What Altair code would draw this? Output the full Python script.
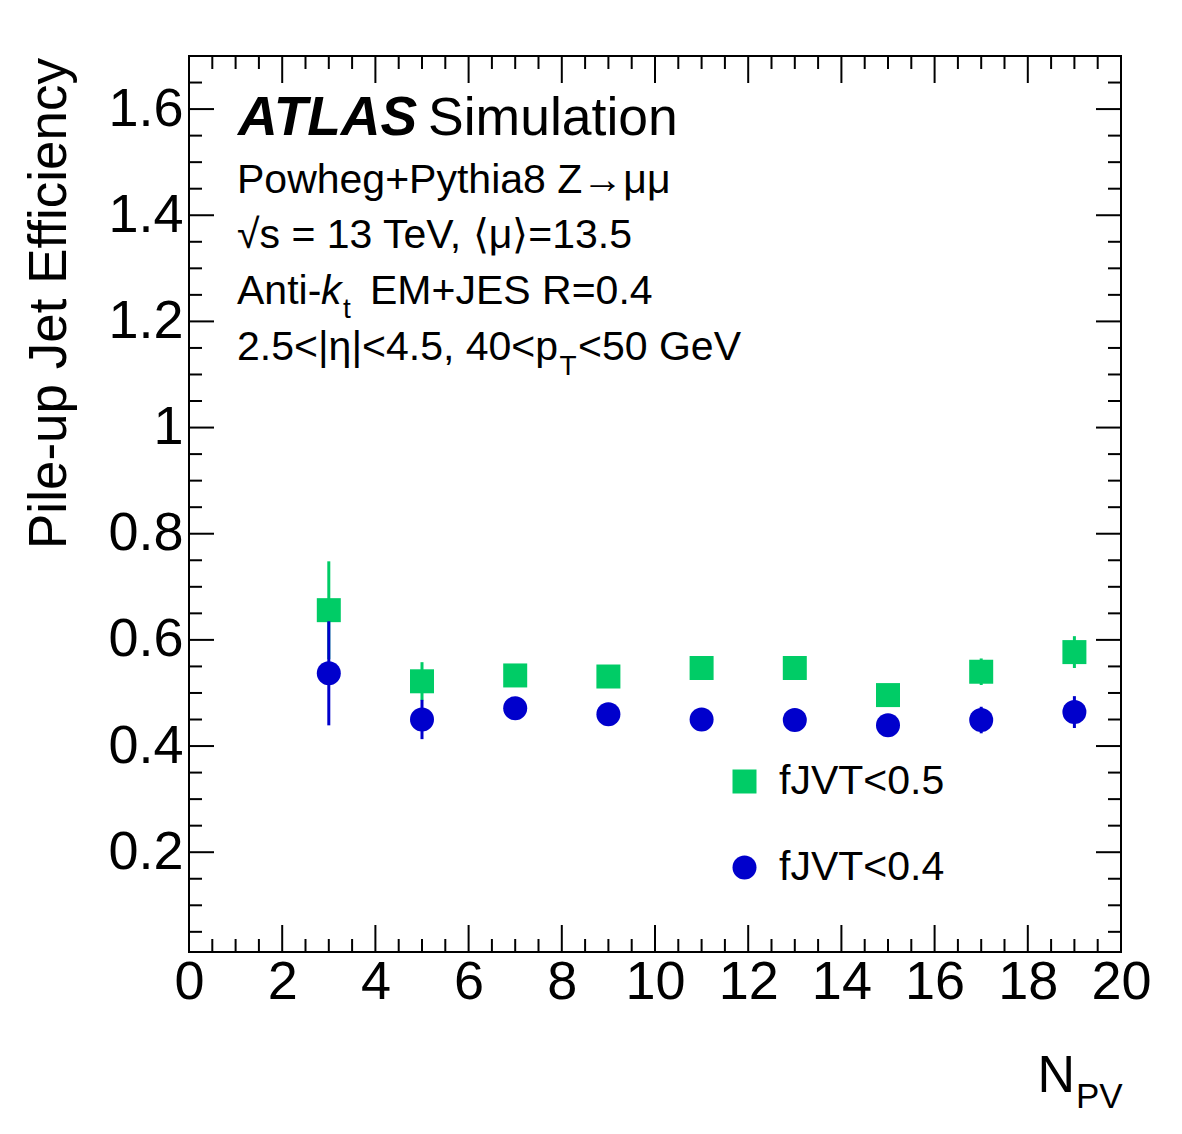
import altair as alt
import pandas as pd

# ---- data ----
npv = [3, 5, 7, 9, 11, 13, 15, 17, 19]
eff_05 = [0.656, 0.522, 0.533, 0.531, 0.547, 0.547, 0.496, 0.540, 0.577]
err_05 = [0.092, 0.036, 0.012, 0.012, 0.012, 0.012, 0.012, 0.025, 0.030]
eff_04 = [0.537, 0.450, 0.471, 0.460, 0.450, 0.449, 0.439, 0.449, 0.464]
err_04 = [0.098, 0.037, 0.012, 0.012, 0.012, 0.012, 0.012, 0.025, 0.030]
series_names = ["fJVT<0.5", "fJVT<0.4"]
series_colors = ["#00CC66", "#0000CC"]
series_shapes = ["square", "circle"]

x_major = [0, 2, 4, 6, 8, 10, 12, 14, 16, 18, 20]
x_minor = [i * 0.5 for i in range(41) if i % 4 != 0]
y_major = [0.2, 0.4, 0.6, 0.8, 1.0, 1.2, 1.4, 1.6]
y_minor = [round(0.05 * i, 2) for i in range(1, 34) if i % 4 != 0]

W, H = 932, 896
FONT = "Liberation Sans"

rows = []
for n, v, e in zip(npv, eff_05, err_05):
    rows.append({"npv": n, "eff": v, "lo": v - e, "hi": v + e, "series": series_names[0]})
for n, v, e in zip(npv, eff_04, err_04):
    rows.append({"npv": n, "eff": v, "lo": v - e, "hi": v + e, "series": series_names[1]})
df = pd.DataFrame(rows)

xs = alt.Scale(domain=[0, 20], nice=False, zero=False)
ys = alt.Scale(domain=[0.012, 1.7], nice=False, zero=False)
cs = alt.Scale(domain=series_names, range=series_colors)
ss = alt.Scale(domain=series_names, range=series_shapes)

base = alt.Chart(df)

leg = alt.Legend(title=None, orient="none", legendX=535, legendY=705, direction="vertical",
                 symbolSize=576, labelFontSize=41, labelFont=FONT, labelOffset=14,
                 rowPadding=44, labelLimit=400, padding=0, symbolStrokeWidth=0,
                 labelColor="black")

def bars(i):
    return base.transform_filter(alt.datum.series == series_names[i]).mark_rule(strokeWidth=3).encode(
        x=alt.X("npv:Q", scale=xs),
        y=alt.Y("lo:Q", scale=ys),
        y2="hi:Q",
        color=alt.value(series_colors[i]),
    )

def pts(i):
    return base.transform_filter(alt.datum.series == series_names[i]).mark_point(filled=True, size=576, opacity=1).encode(
        x=alt.X("npv:Q", scale=xs),
        y=alt.Y("eff:Q", scale=ys),
        color=alt.Color("series:N", scale=cs, legend=leg, sort=series_names),
        shape=alt.Shape("series:N", scale=ss, legend=leg, sort=series_names),
    )

axis_layer = alt.Chart(pd.DataFrame({"x": [0, 20], "y": [0.012, 1.7]})).mark_point(opacity=0).encode(
    x=alt.X("x:Q", scale=xs, axis=alt.Axis(values=x_major, format="~g", title=None, ticks=False, domain=False,
                                             grid=False, labelFontSize=54, labelFont=FONT, labelColor="black",
                                             labelPadding=3, labelFlush=False, labelOverlap=False)),
    y=alt.Y("y:Q", scale=ys, axis=alt.Axis(values=y_major, format="~g", title=None, ticks=False, domain=False,
                                             grid=False, labelFontSize=54, labelFont=FONT, labelColor="black",
                                             labelPadding=6, labelFlush=False, labelOverlap=False)),
)

xmaj = pd.DataFrame({"t": x_major})
xmin = pd.DataFrame({"t": x_minor})
ymaj = pd.DataFrame({"t": y_major})
ymin = pd.DataFrame({"t": y_minor})

def xt(d, y0, y1):
    return alt.Chart(d).mark_rule(color="black", strokeWidth=2).encode(
        x=alt.X("t:Q", scale=xs), y=alt.value(y0), y2=alt.value(y1))

def yt(d, x0, x1):
    return alt.Chart(d).mark_rule(color="black", strokeWidth=2).encode(
        y=alt.Y("t:Q", scale=ys), x=alt.value(x0), x2=alt.value(x1))

ticks = [
    xt(xmaj, H, H - 27), xt(xmin, H, H - 13), xt(xmaj, 0, 27), xt(xmin, 0, 13),
    yt(ymaj, 0, 25), yt(ymin, 0, 13), yt(ymaj, W, W - 25), yt(ymin, W, W - 13),
]

frame = alt.Chart(pd.DataFrame({"a": [0]})).mark_rect(fill=None, stroke="black", strokeWidth=2).encode(
    x=alt.value(0), x2=alt.value(W), y=alt.value(0), y2=alt.value(H))

def txt(s, x, y, size=41, align="left", baseline="alphabetic", weight="normal", style="normal", angle=0):
    kw = dict(text=s, align=align, baseline=baseline, fontSize=size, font=FONT, fontWeight=weight,
              fontStyle=style, color="black")
    if angle:
        kw["angle"] = angle
    return alt.Chart(pd.DataFrame({"a": [0]})).mark_text(**kw).encode(x=alt.value(x), y=alt.value(y))

texts = [
    txt("ATLAS", 49, 79, size=55, weight="bold", style="italic"),
    txt("Simulation", 239, 79, size=53.5),
    txt("Powheg+Pythia8 Z\u2192\u03bc\u03bc", 48, 137),
    txt("\u221as = 13 TeV, \u27e8\u03bc\u27e9=13.5", 48, 192),
    txt("Anti-", 48, 248),
    txt("k", 132, 248, style="italic"),
    txt("t", 154, 262, size=28),
    txt("EM+JES R=0.4", 181, 248),
    txt("2.5<|\u03b7|<4.5, 40<p", 48, 304),
    txt("T", 379, 319, size=28, align="center"),
    txt("<50 GeV", 552, 304, align="right"),
    txt("N", 886, 1036, size=52, align="right"),
    txt("PV", 887, 1052, size=35),
    txt("Pile-up Jet Efficiency", -123, 2, size=53, align="right", angle=270),
]

chart = alt.layer(
    axis_layer,
    *ticks,
    bars(0), pts(0),
    bars(1), pts(1),
    frame,
    *texts,
).resolve_scale(color="shared", shape="shared").properties(
    width=W, height=H,
    autosize=alt.AutoSizeParams(type="none"),
    padding={"left": 189, "top": 56, "right": 61, "bottom": 182},
).configure_view(stroke=None).configure(background="white")

chart.save("out.html", embed_options={"renderer": "svg", "actions": False})
